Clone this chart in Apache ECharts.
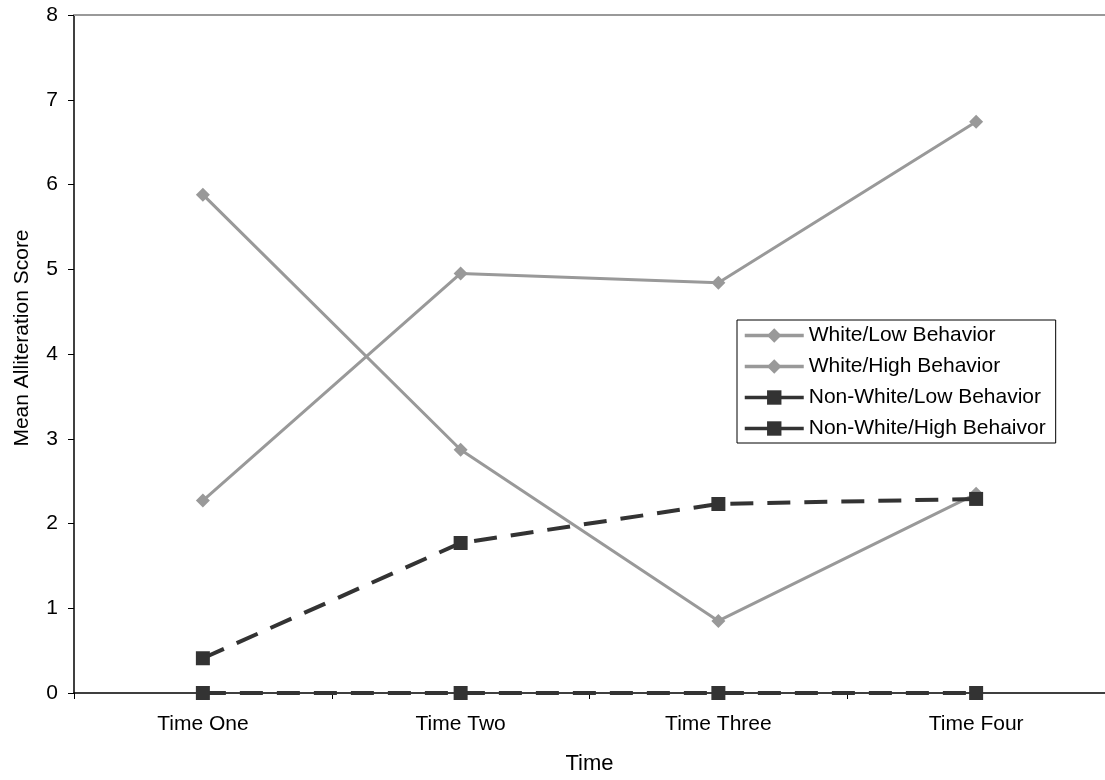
<!DOCTYPE html>
<html>
<head>
<meta charset="utf-8">
<script src="https://cdn.jsdelivr.net/npm/echarts@6/dist/echarts.min.js"></script>
<style>html,body{margin:0;padding:0;background:#fff}#c{width:1105px;height:780px}</style>
</head>
<body>
<div id="c"></div>
<script>
const categories = ['Time One', 'Time Two', 'Time Three', 'Time Four'];
const whiteLow = [5.88, 2.87, 0.85, 2.35];
const whiteHigh = [2.27, 4.95, 4.84, 6.74];
const nonWhiteLow = [0.41, 1.77, 2.23, 2.29];
const nonWhiteHigh = [0, 0, 0, 0];
const seriesNames = ['White/Low Behavior', 'White/High Behavior', 'Non-White/Low Behavior', 'Non-White/High Behaivor'];
const yTicks = [0, 1, 2, 3, 4, 5, 6, 7, 8];

const FONT = '"Liberation Sans", Arial, sans-serif';
const chart = echarts.init(document.getElementById('c'), null, {renderer: 'canvas'});

function graySeries(name, data) {
  return {
    name, type: 'line', data, clip: false,
    symbol: 'diamond', symbolSize: 14,
    lineStyle: {color: '#999999', width: 3},
    itemStyle: {color: '#999999'},
    animation: false, z: 10
  };
}
function darkSeries(name, data) {
  return {
    name, type: 'line', data, clip: false,
    symbol: 'rect', symbolSize: 14,
    lineStyle: {color: '#333333', width: 4, type: [23, 14]},
    itemStyle: {color: '#333333'},
    animation: false, z: 11
  };
}

chart.setOption({
  backgroundColor: '#ffffff',
  textStyle: {fontFamily: FONT},
  grid: {left: 74, right: 0, top: 15, bottom: 86, containLabel: false},
  legend: {
    left: 737, top: 320,
    orient: 'vertical',
    backgroundColor: '#ffffff',
    borderColor: '#000000', borderWidth: 1, borderRadius: 0,
    padding: [5, 10, 4, 6],
    itemGap: 10,
    itemWidth: 59, itemHeight: 18,
    textStyle: {fontFamily: FONT, fontSize: 21, color: '#000000'},
    data: seriesNames.map((n, i) => ({name: n, lineStyle: {type: 'solid', width: 3.5}}))
  },
  xAxis: [{
    type: 'category', data: categories, boundaryGap: true, z: 0,
    name: 'Time', nameLocation: 'middle', nameGap: 60,
    nameTextStyle: {fontFamily: FONT, fontSize: 22, color: '#000'},
    axisLine: {onZero: false, lineStyle: {color: '#000', width: 1.5}},
    axisTick: {show: true, inside: false, length: 6, alignWithLabel: false, lineStyle: {color: '#000'}},
    axisLabel: {fontFamily: FONT, fontSize: 21, color: '#000', margin: 21},
    splitLine: {show: false}
  }, {
    type: 'category', data: categories, position: 'top', z: 0,
    axisLine: {onZero: false, lineStyle: {color: '#999999', width: 2}},
    axisTick: {show: false}, axisLabel: {show: false}, splitLine: {show: false}
  }],
  yAxis: {
    type: 'value', min: 0, max: 8, interval: 1, z: 0,
    name: 'Mean Alliteration Score', nameLocation: 'middle', nameGap: 41, nameRotate: 90,
    nameTextStyle: {fontFamily: FONT, fontSize: 21, color: '#000', padding: [0, 0, 0, 32]},
    axisLine: {show: true, lineStyle: {color: '#000', width: 1.5}},
    axisTick: {show: true, length: 6, lineStyle: {color: '#000'}},
    axisLabel: {fontFamily: FONT, fontSize: 21, color: '#000', margin: 16,
      formatter: v => yTicks.includes(v) ? String(v) : ''},
    splitLine: {show: false}
  },
  series: [
    graySeries(seriesNames[0], whiteLow),
    graySeries(seriesNames[1], whiteHigh),
    darkSeries(seriesNames[2], nonWhiteLow),
    darkSeries(seriesNames[3], nonWhiteHigh)
  ]
});
</script>
</body>
</html>
